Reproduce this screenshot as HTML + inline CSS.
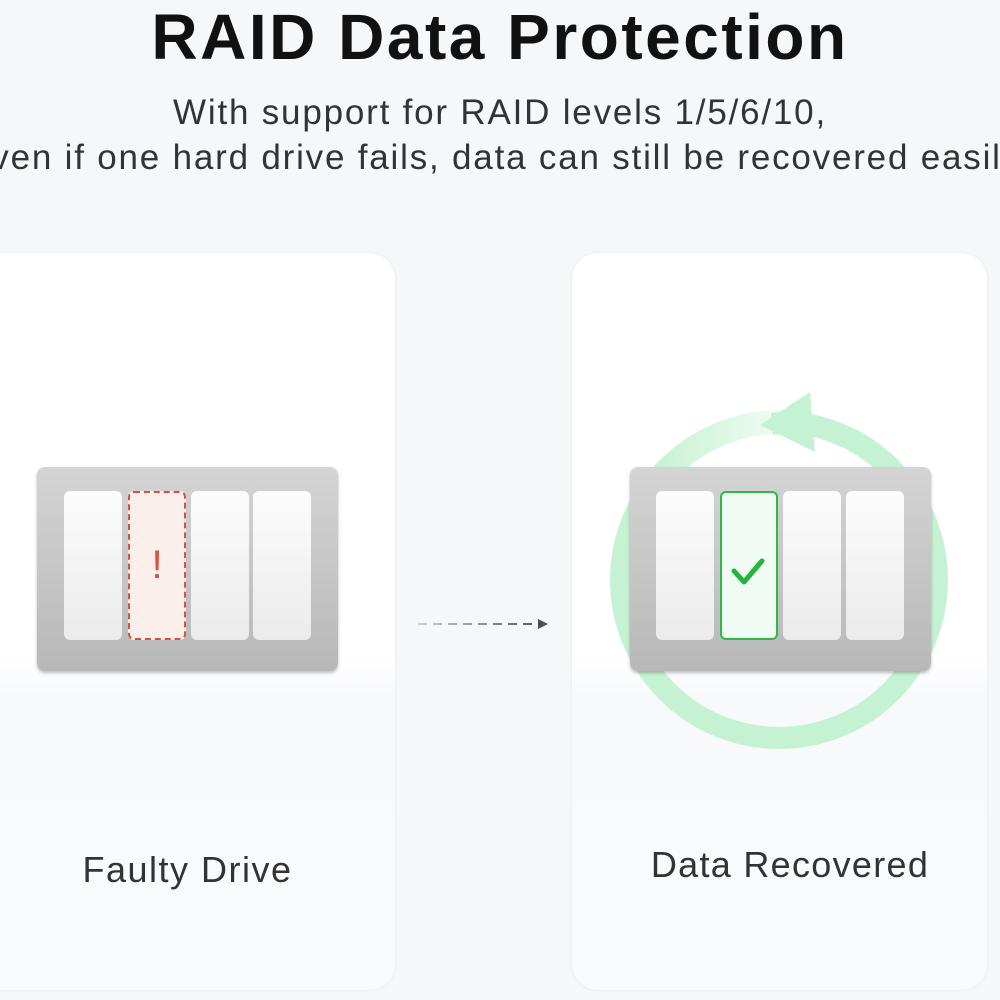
<!DOCTYPE html>
<html><head><style>
body{margin:0;width:1000px;height:1000px;background:#f5f7f9;overflow:hidden;position:relative;font-family:"Liberation Sans",sans-serif}
.t{position:absolute;left:-200px;width:1400px;text-align:center;white-space:nowrap}
.card{position:absolute;top:253px;height:737px;background:linear-gradient(#fff 0%,#fff 55%,#f8f9fb 60%,#f9fafb 100%);border-radius:26px;box-shadow:0 0 3px rgba(0,0,0,.08)}
.enc{position:absolute;width:301px;height:204px;top:467px;border-radius:8px;background:linear-gradient(#d4d4d4,#b8b8b8);box-shadow:0 2px 3px rgba(0,0,0,.25)}
.s{position:absolute;top:24px;width:58px;height:149px;border-radius:6px;background:linear-gradient(#fcfcfc,#ebebeb)}
</style></head><body>
<div class="t" style="top:0px;font-size:64px;font-weight:bold;color:#111;letter-spacing:2.5px">RAID Data Protection</div>
<div class="t" style="top:93px;font-size:35px;color:#333;letter-spacing:1.8px">With support for RAID levels 1/5/6/10,</div>
<div class="t" style="top:138px;font-size:35px;color:#333;letter-spacing:1.8px">even if one hard drive fails, data can still be recovered easily.</div>
<div class="card" style="left:-30px;width:425px"></div>
<div class="card" style="left:572px;width:415px"></div>
<svg style="position:absolute;left:0;top:0" width="1000" height="1000">
<defs>
<linearGradient id="d" gradientUnits="userSpaceOnUse" x1="418" y1="0" x2="548" y2="0"><stop offset="0" stop-color="#cdd0d6"/><stop offset="1" stop-color="#4a4f5c"/></linearGradient>
<linearGradient id="f" gradientUnits="userSpaceOnUse" x1="650" y1="0" x2="790" y2="0"><stop offset="0" stop-color="#c5f2d2"/><stop offset="1" stop-color="#f4fcf6"/></linearGradient>
</defs>
<circle cx="779" cy="580" r="158" fill="none" stroke="#c5f2d2" stroke-width="22"/>
<path d="M660 478 A158 158 0 0 1 785 422" fill="none" stroke="url(#f)" stroke-width="24"/>
<path d="M772 424 A158 158 0 0 1 800 424" fill="none" stroke="#c5f2d2" stroke-width="22"/>
<polygon points="810,392 760,425 815,452" fill="#c5f2d2"/>
<line x1="418" y1="624" x2="540" y2="624" stroke="url(#d)" stroke-width="2" stroke-dasharray="9,6"/>
<polygon points="538,619 548,624 538,629" fill="#4a4f5c"/>
</svg>
<div class="enc" style="left:37px">
<div class="s" style="left:27px"></div>
<div class="s" style="left:91px;background:#fbefec;border:2px dashed #d9503c;box-sizing:border-box;color:#d9503c;font-size:40px;text-align:center;line-height:145px">!</div>
<div class="s" style="left:154px"></div>
<div class="s" style="left:216px"></div>
</div>
<div class="enc" style="left:630px">
<div class="s" style="left:26px"></div>
<div class="s" style="left:90px;background:#f0fcf3;border:2px solid #2dbb45;box-sizing:border-box"><svg width="54" height="145"><path d="M12 78 L22 89 L40 68" fill="none" stroke="#22b43c" stroke-width="5" stroke-linecap="round" stroke-linejoin="round"/></svg></div>
<div class="s" style="left:153px"></div>
<div class="s" style="left:216px"></div>
</div>
<div style="position:absolute;left:0;width:375px;top:849px;text-align:center;font-size:36px;color:#333;letter-spacing:1.5px">Faulty Drive</div>
<div style="position:absolute;left:572px;width:436px;top:844px;text-align:center;font-size:36px;color:#333;letter-spacing:1.3px">Data Recovered</div>
</body></html>
